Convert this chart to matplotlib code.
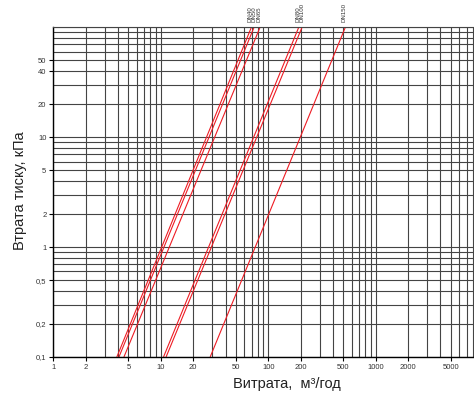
import numpy as np
import matplotlib
matplotlib.use('Agg')
import matplotlib.pyplot as plt
from matplotlib.ticker import LogLocator, FixedLocator, NullFormatter
from matplotlib.transforms import offset_copy

plt.rcParams['font.family'] = ['Liberation Sans', 'DejaVu Sans']

# valve sizes and flow (m3/h) read at 0.1 kPa and at 100 kPa
valves = ['DN40', 'DN50', 'DN65', 'DN80', 'DN100', 'DN150']
flow_low = [3.9, 4.08, 4.54, 10.6, 11.2, 28.8]
flow_high = [69.6, 73.7, 83.8, 192, 206, 521]
dp_low = 0.1
dp_high = 100

x_ticks = [1, 2, 5, 10, 20, 50, 100, 200, 500, 1000, 2000, 5000]
y_ticks = [0.1, 0.2, 0.5, 1, 2, 5, 10, 20, 40, 50]


def fmt(v):
    '''
    format a number with a comma as decimal separator
    '''
    if v < 1:
        return f"{v:.1f}".replace('.', ',')
    return f"{v:g}"


def main():
    fig = plt.figure(figsize=(4.74, 3.94), dpi=100)
    ax = fig.add_axes([53.3 / 474, (394 - 357) / 394, 1 - 53.3 / 474, (357 - 27.3) / 394])

    ax.set_xscale('log')
    ax.set_yscale('log')
    ax.set_xlim(1, 8200)
    ax.set_ylim(dp_low, dp_high)

    # grid lines at every 1..9 of each decade
    ax.xaxis.set_major_locator(FixedLocator(x_ticks))
    ax.yaxis.set_major_locator(FixedLocator(y_ticks))
    ax.xaxis.set_minor_locator(LogLocator(base=10, subs=np.arange(1, 10), numticks=20))
    ax.yaxis.set_minor_locator(LogLocator(base=10, subs=np.arange(1, 10), numticks=20))
    ax.xaxis.set_minor_formatter(NullFormatter())
    ax.yaxis.set_minor_formatter(NullFormatter())
    ax.set_xticklabels([fmt(v) for v in x_ticks])
    ax.set_yticklabels([fmt(v) for v in y_ticks])
    ax.grid(True, which='both', color='#444444', linewidth=0.8)
    ax.set_axisbelow(True)

    ax.tick_params(which='major', direction='out', length=3, width=0.8,
                   labelsize=5.5, labelcolor='#333333', pad=2)
    ax.tick_params(which='minor', length=0)

    for side in ['left', 'bottom']:
        ax.spines[side].set_color('black')
        ax.spines[side].set_linewidth(1.0)
    ax.spines['top'].set_color('#444444')
    ax.spines['top'].set_linewidth(0.8)
    ax.spines['right'].set_visible(False)

    for q0, q1 in zip(flow_low, flow_high):
        ax.plot([q0, q1], [dp_low, dp_high], color='#ee1c24', linewidth=0.8,
                solid_capstyle='butt')

    # labels over the line ends, pushed apart so they do not collide
    fig.canvas.draw()
    tops = [ax.transData.transform((q, dp_high))[0] for q in flow_high]
    placed = []
    for px in tops:
        if placed and px - placed[-1] < 3.8:
            px = placed[-1] + 3.8
        placed.append(px)
    for name, px, q1 in zip(valves, placed, flow_high):
        shift = (px - ax.transData.transform((q1, dp_high))[0]) * 72 / fig.dpi
        tr = offset_copy(ax.transData, fig=fig, x=shift - 0.7, y=0, units='points')
        ax.text(q1, dp_high * 1.12, name, rotation=90, fontsize=4.4,
                ha='center', va='bottom', color='#333333', transform=tr)

    fig.text(287 / 474, 1 - 384 / 394, 'Витрата,  м³/год', fontsize=10.5,
             ha='center', va='center', color='#222222')
    fig.text(20 / 474, 1 - 191 / 394, 'Втрата тиску, кПа', fontsize=10.5,
             rotation=90, ha='center', va='center', color='#222222')

    fig.savefig('out.png', dpi=100)


if __name__ == '__main__':
    main()
